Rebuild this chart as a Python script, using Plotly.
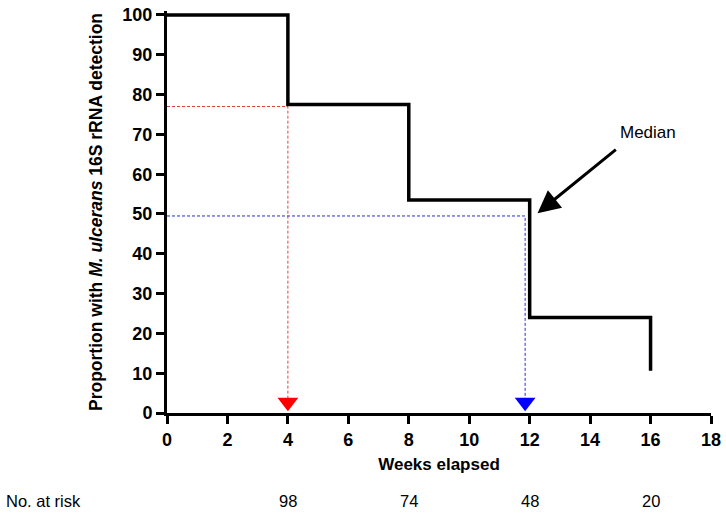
import plotly.graph_objects as go

# Kaplan-Meier style step data
weeks = [0, 4, 8, 12, 16]
proportion = [100, 77.5, 53.5, 24, 10.6]

# reference guide lines
red_x = [0, 4, 4]
red_y = [77, 77, 2.7]
blue_x = [0, 11.85, 11.85]
blue_y = [49.5, 49.5, 2.7]

# numbers at risk
risk_weeks = [4, 8, 12, 16]
risk_counts = [98, 74, 48, 20]

x_ticks = list(range(0, 19, 2))
y_ticks = list(range(0, 101, 10))

FONT = "Arial, Liberation Sans, sans-serif"

fig = go.Figure()

fig.add_trace(go.Scatter(x=red_x, y=red_y, mode="lines",
                         line=dict(color="#e0403c", width=1, dash="3px,2px"),
                         hoverinfo="skip"))
fig.add_trace(go.Scatter(x=blue_x, y=blue_y, mode="lines",
                         line=dict(color="#2b2bd6", width=1, dash="3px,2px"),
                         hoverinfo="skip"))
fig.add_trace(go.Scatter(x=weeks, y=proportion, mode="lines", line_shape="hv",
                         line=dict(color="black", width=3.5)))
fig.add_trace(go.Scatter(x=[red_x[-1]], y=[red_y[-1]], mode="markers",
                         marker=dict(symbol="triangle-down", size=18, color="#ff0000"),
                         cliponaxis=False))
fig.add_trace(go.Scatter(x=[blue_x[-1]], y=[blue_y[-1]], mode="markers",
                         marker=dict(symbol="triangle-down", size=18, color="#0000ff"),
                         cliponaxis=False))

# Median arrow and label
fig.add_annotation(x=12.26, y=50.2, ax=14.9, ay=66.5, axref="x", ayref="y",
                   xref="x", yref="y", text="", showarrow=True,
                   arrowhead=2, arrowsize=1.5, arrowwidth=3, arrowcolor="black")
fig.add_annotation(x=14.92, y=70.5, xref="x", yref="y", text="Median",
                   showarrow=False, xanchor="left",
                   font=dict(family=FONT, size=17, color="black"))

# No. at risk row
fig.add_annotation(x=-0.3, y=0, xref="paper", yref="paper", text="No. at risk",
                   showarrow=False, xanchor="left", yanchor="middle", yshift=-88,
                   font=dict(family=FONT, size=16.5, color="black"))
for wk, n in zip(risk_weeks, risk_counts):
    fig.add_annotation(x=wk, y=0, xref="x", yref="paper", text=str(n),
                       showarrow=False, yanchor="middle", yshift=-88,
                       font=dict(family=FONT, size=16.5, color="black"))

fig.update_layout(
    width=726, height=513,
    margin=dict(l=167, r=14, t=5, b=100),
    paper_bgcolor="white", plot_bgcolor="white",
    showlegend=False,
    font=dict(family=FONT, color="black"),
    xaxis=dict(range=[0, 18], tickvals=x_ticks, showgrid=False, zeroline=False,
               showline=True, linecolor="black", linewidth=3,
               ticks="outside", ticklen=8, tickwidth=3, tickcolor="black",
               ticklabeloverflow="allow",
               tickfont=dict(family=FONT, size=18, color="black", weight="bold"),
               title=dict(text="<b>Weeks elapsed</b>", standoff=10,
                          font=dict(family=FONT, size=17, color="black"))),
    yaxis=dict(range=[0, 101], tickvals=y_ticks, showgrid=False, zeroline=False,
               showline=True, linecolor="black", linewidth=3,
               ticks="outside", ticklen=8, tickwidth=3, tickcolor="black",
               ticklabeloverflow="allow",
               tickfont=dict(family=FONT, size=18, color="black", weight="bold"),
               title=dict(text="<b>Proportion with <i>M. ulcerans</i> 16S rRNA detection</b>",
                          standoff=16,
                          font=dict(family=FONT, size=17.5, color="black"))),
)

fig.write_html("out.html", config={"displayModeBar": False},
               post_script="document.body.style.margin='0px';")
